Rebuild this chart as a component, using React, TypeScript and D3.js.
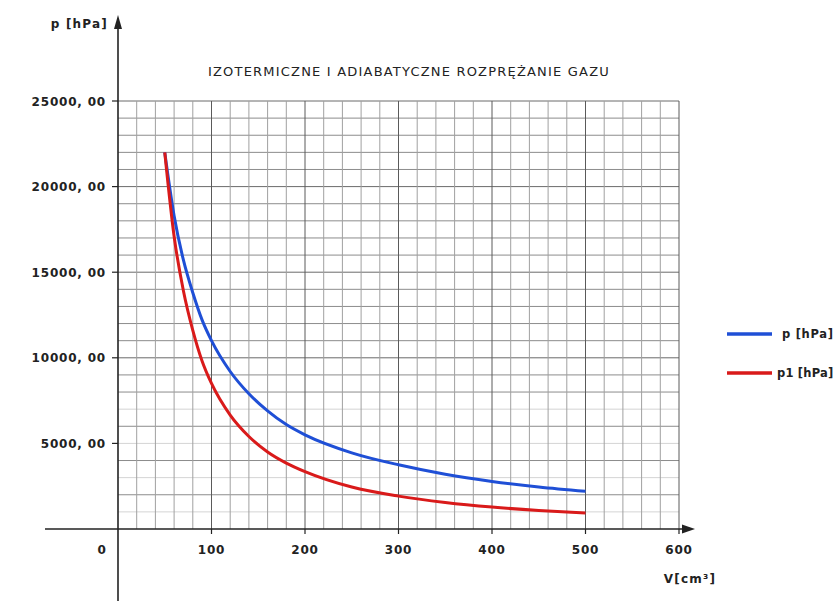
import React from "react";
import * as d3 from "d3";

const volumes = [50, 60, 70, 80, 90, 100, 120, 140, 160, 180, 200, 250, 300, 350, 400, 450, 500];
const pIso = [22000, 18300, 15700, 13800, 12200, 11000, 9200, 7900, 6900, 6100, 5500, 4450, 3750, 3200, 2780, 2450, 2200];
const pAdi = [22000, 17100, 13900, 11600, 9800, 8500, 6650, 5400, 4500, 3850, 3350, 2450, 1920, 1550, 1280, 1080, 930];

const xTicks = [0, 100, 200, 300, 400, 500, 600];
const yTicks = [5000, 10000, 15000, 20000, 25000];
const yTickLabels = ["5000, 00", "10000, 00", "15000, 00", "20000, 00", "25000, 00"];
const seriesNames = ["p [hPa]", "p1 [hPa]"];
const seriesColors = ["#1f4fd6", "#d91a1a"];

const W = 839;
const H = 601;
const FONT = "'DejaVu Sans', Verdana, sans-serif";

export default function App() {
  const x = d3.scaleLinear().domain([0, 600]).range([118, 679]);
  const y = d3.scaleLinear().domain([0, 25000]).range([529, 101]);

  const vGrid = d3.range(20, 601, 20);
  const hGrid = d3.range(1000, 25001, 1000);

  const line = d3
    .line<[number, number]>()
    .x((d) => x(d[0]))
    .y((d) => y(d[1]))
    .curve(d3.curveMonotoneX);

  const isoPts = volumes.map((v, i) => [v, pIso[i]] as [number, number]);
  const adiPts = volumes.map((v, i) => [v, pAdi[i]] as [number, number]);

  return (
    <svg
      width={W}
      height={H}
      style={{ position: "absolute", left: 0, top: 0, background: "#fff" }}
    >
      <rect x={0} y={0} width={W} height={H} fill="#fff" />
      {/* grid */}
      {hGrid.map((v) => {
        const faint = v < 8000 && (v / 1000) % 2 === 1;
        return (
          <line
            key={"h" + v}
            x1={x(0)}
            x2={x(600)}
            y1={y(v)}
            y2={y(v)}
            stroke={faint ? "#d4d4d4" : v % 5000 === 0 ? "#6a6a6a" : "#8c8c8c"}
            strokeWidth={1}
          />
        );
      })}
      {vGrid.map((v) => (
        <line
          key={"v" + v}
          x1={x(v)}
          x2={x(v)}
          y1={y(25000)}
          y2={y(0)}
          stroke={v % 100 === 0 ? "#5a5a5a" : "#a0a0a0"}
          strokeWidth={1}
        />
      ))}

      {/* axes */}
      <line x1={45} x2={684} y1={y(0)} y2={y(0)} stroke="#222" strokeWidth={1.6} />
      <path d={`M${695},${y(0)} L${682},${y(0) - 4.5} L${682},${y(0) + 4.5} Z`} fill="#222" />
      <line x1={x(0)} x2={x(0)} y1={26} y2={H} stroke="#222" strokeWidth={1.6} />
      <path d={`M${x(0)},15 L${x(0) - 4},29 L${x(0) + 4},29 Z`} fill="#222" />

      {yTicks.map((v) => (
        <line key={"yt" + v} x1={x(0) - 6} x2={x(0)} y1={y(v)} y2={y(v)} stroke="#222" strokeWidth={1.2} />
      ))}
      {xTicks.slice(1).map((v) => (
        <line key={"xt" + v} x1={x(v)} x2={x(v)} y1={y(0)} y2={y(0) + 5} stroke="#222" strokeWidth={1.2} />
      ))}

      {/* y labels */}
      {yTicks.map((v, i) => (
        <text
          key={"yl" + v}
          x={106}
          y={y(v) + 4.5}
          textAnchor="end"
          fontFamily={FONT}
          fontWeight="bold"
          fontSize={12}
          letterSpacing={0.8}
          fill="#222"
        >
          {yTickLabels[i]}
        </text>
      ))}
      {/* x labels */}
      {xTicks.map((v) => (
        <text
          key={"xl" + v}
          x={v === 0 ? 102 : x(v)}
          y={554}
          textAnchor="middle"
          fontFamily={FONT}
          fontWeight="bold"
          fontSize={12}
          letterSpacing={0.8}
          fill="#222"
        >
          {v}
        </text>
      ))}

      <text x={108} y={28} textAnchor="end" fontFamily={FONT} fontWeight="bold" fontSize={12} letterSpacing={1.2} fill="#222">
        p [hPa]
      </text>
      <text x={690} y={583} textAnchor="middle" fontFamily={FONT} fontWeight="bold" fontSize={12} letterSpacing={1.2} fill="#222">
        V[cm³]
      </text>

      <text x={409} y={76} textAnchor="middle" fontFamily={FONT} fontSize={13} letterSpacing={1.2} fill="#222">
        IZOTERMICZNE I ADIABATYCZNE ROZPRĘŻANIE GAZU
      </text>

      {/* curves */}
      <path d={line(isoPts) || ""} fill="none" stroke={seriesColors[0]} strokeWidth={3} />
      <path d={line(adiPts) || ""} fill="none" stroke={seriesColors[1]} strokeWidth={3} />

      {/* legend */}
      {seriesNames.map((name, i) => (
        <g key={name}>
          <line
            x1={727}
            x2={772}
            y1={334 + i * 39}
            y2={334 + i * 39}
            stroke={seriesColors[i]}
            strokeWidth={3.5}
          />
          <text
            x={i === 0 ? 782 : 777}
            y={338 + i * 39}
            fontFamily={FONT}
            fontWeight="bold"
            fontSize={11.5}
            letterSpacing={i === 0 ? 0.7 : 0.2}
            fill="#222"
          >
            {name}
          </text>
        </g>
      ))}
    </svg>
  );
}
